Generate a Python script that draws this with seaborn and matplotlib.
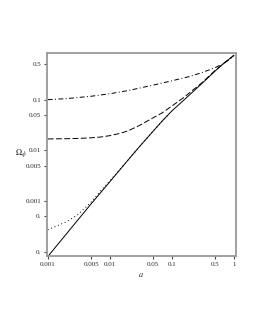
import matplotlib
matplotlib.use("Agg")
import matplotlib.pyplot as plt
import matplotlib.ticker as mticker
import numpy as np
import pandas as pd
import seaborn as sns

# values
a_solid = [0.001, 0.002, 0.005, 0.01, 0.02, 0.03, 0.05, 0.07, 0.1, 0.15, 0.2, 0.3, 0.5, 0.7, 1.0]
om_solid = [8.0e-5, 2.25e-4, 8.8e-4, 2.4e-3, 6.6e-3, 0.0118, 0.024, 0.038, 0.060, 0.094,
            0.130, 0.205, 0.37, 0.53, 0.75]

a_dotted = [0.001, 0.002, 0.003, 0.005, 0.007, 0.01, 0.02, 0.03, 0.05, 0.07, 0.1]
om_dotted = [2.7e-4, 3.9e-4, 5.3e-4, 9.5e-4, 1.55e-3, 2.5e-3, 6.6e-3, 0.0118, 0.024, 0.038, 0.060]

a_dashed = [0.001, 0.002, 0.003, 0.005, 0.007, 0.01, 0.015, 0.02, 0.03, 0.05, 0.07, 0.1,
            0.15, 0.2, 0.3, 0.5, 0.7, 1.0]
om_dashed = [0.0168, 0.0170, 0.0172, 0.0177, 0.0183, 0.0195, 0.0218, 0.0245, 0.031, 0.044,
             0.055, 0.075, 0.107, 0.142, 0.212, 0.38, 0.535, 0.75]

a_dashdot = [0.001, 0.002, 0.005, 0.01, 0.02, 0.05, 0.1, 0.2, 0.3, 0.5, 0.7, 0.85, 1.0]
om_dashdot = [0.100, 0.105, 0.117, 0.131, 0.152, 0.194, 0.236, 0.29, 0.34, 0.43, 0.53,
              0.62, 0.75]

xticks = [0.001, 0.005, 0.01, 0.05, 0.1, 0.5, 1]
xticklabels = ["0.001", "0.005", "0.01", "0.05", "0.1", "0.5", "1"]
yticks = [0.0001, 0.0005, 0.001, 0.005, 0.01, 0.05, 0.1, 0.5]
yticklabels = ["0.", "0.", "0.001", "0.005", "0.01", "0.05", "0.1", "0.5"]

sns.set_style("ticks")
plt.rcParams['font.family'] = ['Liberation Serif', 'DejaVu Serif']
plt.rcParams['mathtext.fontset'] = 'stix'

fig = plt.figure(figsize=(2.55, 3.3), dpi=100)
ax = fig.add_axes([0.184, 0.224, 0.741, 0.615])

lw = 0.7
sns.lineplot(x=a_solid, y=om_solid, ax=ax, color="k", lw=lw, linestyle="-")
sns.lineplot(x=a_dotted, y=om_dotted, ax=ax, color="k", lw=lw, linestyle=(0, (1, 2.8)))
sns.lineplot(x=a_dashed, y=om_dashed, ax=ax, color="k", lw=lw, linestyle=(0, (6, 2.5)))
sns.lineplot(x=a_dashdot, y=om_dashdot, ax=ax, color="k", lw=lw, linestyle=(0, (5, 2.5, 1, 2.5)))

ax.set_xscale("log")
ax.set_yscale("log")
ax.set_xlim(0.00097, 1.075)
ax.set_ylim(8.2e-5, 0.83)

ax.xaxis.set_major_locator(mticker.FixedLocator(xticks))
ax.xaxis.set_major_formatter(mticker.FixedFormatter(xticklabels))
ax.yaxis.set_major_locator(mticker.FixedLocator(yticks))
ax.yaxis.set_major_formatter(mticker.FixedFormatter(yticklabels))
ax.xaxis.set_minor_locator(mticker.NullLocator())
ax.yaxis.set_minor_locator(mticker.NullLocator())

ax.tick_params(axis="both", direction="out", length=2.5, width=0.8, color="#444444",
               labelsize=5, pad=1.5)
for s in ax.spines.values():
    s.set_color("#999999")
    s.set_linewidth(1.3)

ax.set_xlabel("$a$", fontsize=6, labelpad=3)
ax.set_ylabel(r"$\Omega_\phi$", fontsize=6, rotation=0, labelpad=4)
ax.yaxis.set_label_coords(-0.14, 0.48)

fig.savefig("out.png", dpi=100)
